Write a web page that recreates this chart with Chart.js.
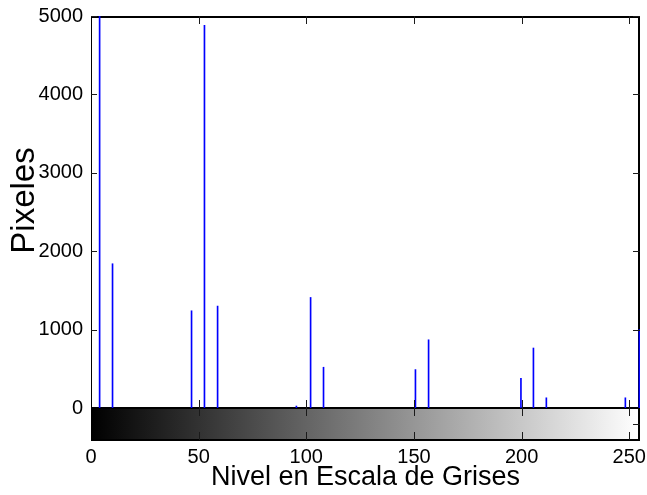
<!DOCTYPE html>
<html>
<head>
<meta charset="utf-8">
<script src="https://cdn.jsdelivr.net/npm/chart.js@4/dist/chart.umd.min.js"></script>
<style>
  html, body { margin: 0; padding: 0; background: #ffffff; }
  #wrap { width: 647px; height: 495px; }
</style>
</head>
<body>
<div id="wrap"><canvas id="c" width="647" height="495"></canvas></div>
<script>
// ---- data ----
const grayLevels = [4, 10, 46.7, 52.7, 58.8, 95.4, 102, 108, 150.7, 156.8, 199.7, 205.5, 211.5, 248.2, 254.7];
const pixelCounts = [5300, 1840, 1240, 4880, 1300, 25, 1410, 520, 490, 870, 380, 765, 130, 130, 1000];
const xTickValues = [0, 50, 100, 150, 200, 250];
const yTickValues = [0, 1000, 2000, 3000, 4000, 5000];
const xTitle = 'Nivel en Escala de Grises';
const yTitle = 'Pixeles';

const tickFont = { family: '"Liberation Sans", Arial, sans-serif', size: 20 };

const framePlugin = {
  id: 'framePlugin',
  beforeDatasetsDraw(chart) {
    const { ctx, chartArea: a } = chart;
    ctx.save();
    // colorbar
    const cbTop = a.bottom, cbBot = a.bottom + 32;
    const g = ctx.createLinearGradient(a.left, 0, a.right, 0);
    g.addColorStop(0, '#000000');
    g.addColorStop(1, '#ffffff');
    ctx.fillStyle = g;
    ctx.fillRect(a.left, cbTop, a.right - a.left, cbBot - cbTop);
    ctx.strokeStyle = '#000000';
    ctx.lineWidth = 2;
    ctx.beginPath();
    ctx.moveTo(a.left, a.top + 1); ctx.lineTo(a.right, a.top + 1);          // top
    ctx.moveTo(a.right - 1, a.top); ctx.lineTo(a.right - 1, cbBot + 1);     // right
    ctx.moveTo(a.left, a.bottom); ctx.lineTo(a.right, a.bottom);            // colorbar top
    ctx.moveTo(a.left, cbBot); ctx.lineTo(a.right, cbBot);                  // colorbar bottom
    ctx.stroke();
    ctx.lineWidth = 1;
    ctx.beginPath();
    ctx.moveTo(a.left + 0.5, a.top); ctx.lineTo(a.left + 0.5, cbBot + 1);   // left
    ctx.stroke();
    ctx.restore();
  },
  afterDatasetsDraw(chart) {
    const { ctx, chartArea: a, scales: { x, y } } = chart;
    ctx.save();
    ctx.strokeStyle = '#1a1a1a';
    ctx.lineWidth = 1;
    ctx.beginPath();
    const cbBot = a.bottom + 32;
    xTickValues.forEach(v => {
      if (v === 0) return;
      const px = Math.round(x.getPixelForValue(v)) + 0.5;
      ctx.moveTo(px, a.bottom); ctx.lineTo(px, a.bottom - 8);
      ctx.moveTo(px, a.top); ctx.lineTo(px, a.top + 8);
      ctx.moveTo(px, a.bottom); ctx.lineTo(px, a.bottom + 8);
      ctx.moveTo(px, cbBot); ctx.lineTo(px, cbBot - 8);
    });
    yTickValues.forEach(v => {
      if (v === 0) return;
      const py = Math.round(y.getPixelForValue(v)) + 0.5;
      ctx.moveTo(a.left, py); ctx.lineTo(a.left + 6, py);
      ctx.moveTo(a.right, py); ctx.lineTo(a.right - 7, py);
    });
    const mid = Math.round((a.bottom + cbBot) / 2) + 0.5;
    ctx.moveTo(a.right, mid); ctx.lineTo(a.right - 7, mid);
    ctx.stroke();
    ctx.restore();
  },
  afterDraw(chart) {
    const { ctx } = chart;
    ctx.save();
    ctx.fillStyle = '#000000';
    ctx.font = '33px "Liberation Sans", Arial, sans-serif';
    ctx.textAlign = 'center';
    ctx.textBaseline = 'alphabetic';
    ctx.translate(33.5, 200.5);
    ctx.rotate(-Math.PI / 2);
    ctx.fillText(yTitle, 0, 0);
    ctx.restore();
  }
};

new Chart(document.getElementById('c'), {
  type: 'bar',
  data: {
    datasets: [{
      data: grayLevels.map((g, i) => ({ x: g, y: pixelCounts[i] })),
      backgroundColor: '#0000ff',
      borderWidth: 0,
      barThickness: 1,
      clip: 0
    }]
  },
  options: {
    responsive: false,
    animation: false,
    devicePixelRatio: 1,
    layout: { padding: { top: 16, right: 7, left: 0, bottom: 0 } },
    plugins: { legend: { display: false }, tooltip: { enabled: false } },
    scales: {
      x: {
        type: 'linear',
        offset: false,
        min: 0, max: 255,
        grid: { display: false, drawTicks: false, offset: false },
        border: { display: false },
        afterBuildTicks: s => { s.ticks = xTickValues.map(v => ({ value: v })); },
        afterFit: s => { s.height = 87; s.paddingLeft = 0; s.paddingRight = 0; },
        ticks: {
          color: '#000000',
          padding: 37,
          maxRotation: 0,
          autoSkip: false,
          callback: v => String(v),
          font: tickFont
        },
        title: {
          display: true,
          text: xTitle,
          color: '#000000',
          font: { family: '"Liberation Sans", Arial, sans-serif', size: 27 },
          padding: { top: 0, bottom: 1.4 }
        }
      },
      y: {
        type: 'linear',
        min: 0, max: 5000,
        grid: { display: false, drawTicks: false },
        border: { display: false },
        afterBuildTicks: s => { s.ticks = yTickValues.map(v => ({ value: v })); },
        afterFit: s => { s.width = 91; s.paddingTop = 0; s.paddingBottom = 0; },
        ticks: {
          color: '#000000',
          padding: 8,
          callback: v => String(v),
          font: tickFont
        }
      }
    }
  },
  plugins: [framePlugin]
});
</script>
</body>
</html>
